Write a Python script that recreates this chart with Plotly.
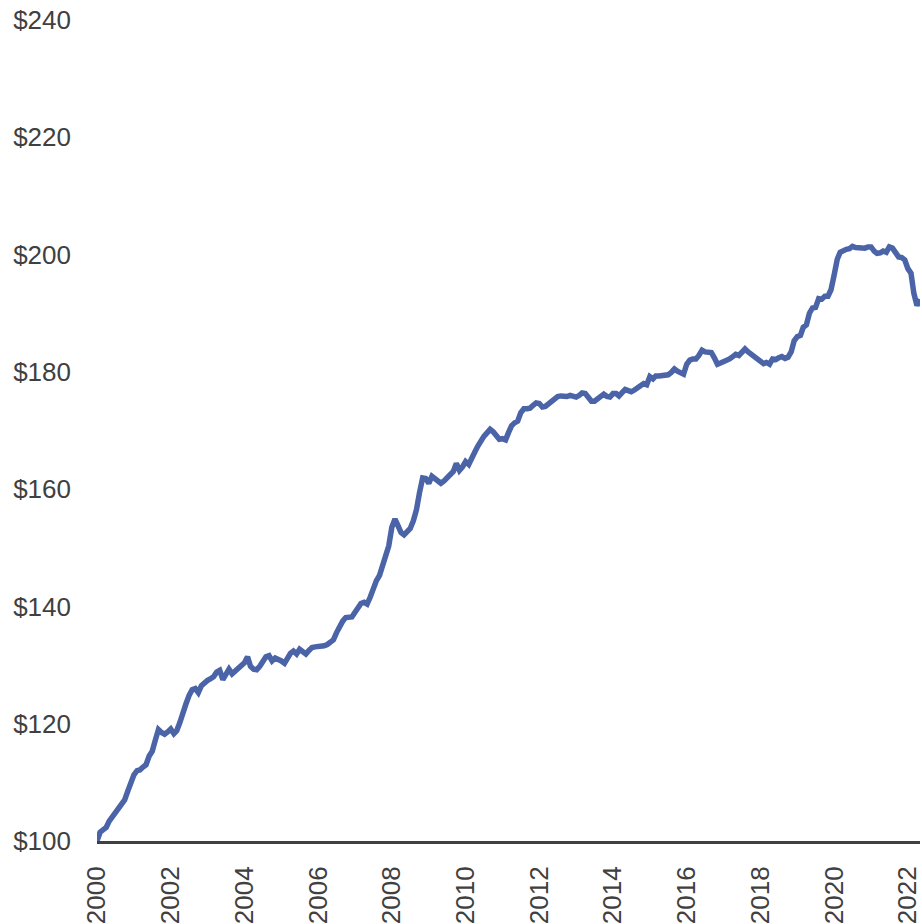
import pandas as pd
import plotly.graph_objects as go

# monthly index values, Jan 2000 - May 2022
v2000 = [100.0, 101.5, 101.9, 102.3, 103.4, 104.2, 105.0, 105.7, 106.2, 107.0, 108.5, 110.0]
v2001 = [111.3, 112.0, 112.1, 112.6, 113.0, 114.5, 115.3, 117.2, 119.0, 118.5, 118.2, 118.6]
v2002 = [119.1, 118.3, 118.8, 120.2, 121.5, 123.4, 124.8, 125.8, 126.0, 125.3, 126.5, 127.0]
v2003 = [127.4, 127.7, 128.0, 128.8, 129.1, 127.5, 128.6, 129.3, 128.5, 128.9, 129.3, 129.8]
v2004 = [130.4, 131.4, 129.8, 129.3, 129.2, 129.8, 130.6, 131.4, 131.6, 130.7, 131.2, 131.0]
v2005 = [130.7, 130.3, 131.2, 132.0, 132.4, 131.9, 132.7, 132.3, 131.9, 132.5, 133.0, 133.1]
v2006 = [133.1, 133.1, 133.3, 133.5, 133.8, 134.3, 135.5, 136.7, 137.5, 138.1, 138.2, 138.2]
v2007 = [139.0, 139.8, 140.5, 140.7, 140.4, 141.6, 143.2, 144.4, 145.3, 147.0, 149.2, 150.3]
v2008 = [153.5, 154.9, 153.8, 152.6, 152.2, 152.7, 153.3, 154.6, 156.5, 159.4, 161.9, 161.8]
v2009 = [161.0, 162.2, 161.8, 161.4, 161.0, 161.4, 162.0, 162.5, 163.0, 164.4, 163.2, 163.8]
v2010 = [164.7, 164.2, 165.0, 166.3, 167.3, 168.3, 169.0, 169.6, 170.2, 169.8, 169.0, 168.5]
v2011 = [168.6, 168.4, 169.6, 170.8, 171.3, 171.6, 173.0, 173.7, 173.7, 173.8, 174.3, 174.7]
v2012 = [174.6, 174.0, 174.1, 174.6, 175.0, 175.5, 175.8, 175.9, 175.8, 175.8, 176.0, 175.9]
v2013 = [175.7, 176.0, 176.4, 176.3, 175.6, 175.0, 175.0, 175.4, 175.9, 176.2, 175.8, 175.7]
v2014 = [176.3, 176.3, 175.9, 176.5, 177.0, 176.8, 176.6, 176.9, 177.3, 177.8, 178.0, 177.8]
v2015 = [179.2, 178.8, 179.3, 179.3, 179.4, 179.4, 179.5, 179.9, 180.5, 180.1, 179.8, 179.6]
v2016 = [181.3, 182.0, 182.2, 182.2, 182.8, 183.7, 183.4, 183.4, 183.3, 182.4, 181.3, 181.5]
v2017 = [181.7, 181.9, 182.2, 182.6, 183.0, 182.8, 183.4, 183.9, 183.4, 183.0, 182.7, 182.4]
v2018 = [181.7, 181.4, 181.6, 181.3, 182.2, 182.1, 182.4, 182.6, 182.3, 182.5, 183.4, 185.3]
v2019 = [186.0, 186.2, 187.6, 188.0, 190.0, 190.9, 191.0, 192.5, 192.4, 192.9, 192.9, 194.0]
v2020 = [196.5, 199.2, 200.4, 200.7, 200.9, 201.0, 201.4, 201.2, 201.1, 201.1, 201.1, 201.3]
v2021 = [201.3, 200.6, 200.2, 200.3, 200.6, 200.4, 201.3, 201.1, 200.3, 199.6, 199.5, 199.1]
v2022 = [197.6, 196.8, 193.4, 191.3, 192.4]

values = (v2000 + v2001 + v2002 + v2003 + v2004 + v2005 + v2006 + v2007 + v2008
          + v2009 + v2010 + v2011 + v2012 + v2013 + v2014 + v2015 + v2016
          + v2017 + v2018 + v2019 + v2020 + v2021 + v2022)
dates = pd.date_range("2000-01-01", periods=len(values), freq="MS")

y_ticks = [100, 120, 140, 160, 180, 200, 220, 240]
y_labels = [f"${t}" for t in y_ticks]
x_ticks = [f"{y}-01-01" for y in range(2000, 2023, 2)]
x_labels = [str(y) for y in range(2000, 2023, 2)]

TXT = "#404040"
LINE = "#4B64A7"

fig = go.Figure(
    go.Scatter(
        x=dates,
        y=values,
        mode="lines",
        line=dict(color=LINE, width=5.5),
        hoverinfo="x+y",
    )
)
fig.update_layout(
    width=922,
    height=924,
    margin=dict(l=97, r=0, t=20, b=81),
    paper_bgcolor="white",
    plot_bgcolor="white",
    showlegend=False,
    font=dict(family="Liberation Sans, Arial, sans-serif", size=26, color=TXT),
    xaxis=dict(
        range=[dates[0], dates[-1]],
        tickvals=x_ticks,
        ticktext=x_labels,
        tickangle=-90,
        ticklabeloverflow="allow",
        showgrid=False,
        zeroline=False,
        showline=True,
        linecolor=TXT,
        linewidth=3,
        ticks="",
        ticklabelstandoff=12,
    ),
    yaxis=dict(
        range=[100, 240],
        tickvals=y_ticks,
        ticktext=y_labels,
        showgrid=False,
        zeroline=False,
        showline=False,
        ticks="",
        ticklabelstandoff=25,
    ),
)

# page body has a default margin; drop it so the figure fills the window
fig.write_html(
    "out.html",
    config={"displayModeBar": False},
    post_script="document.body.style.margin='0px';document.body.style.overflow='hidden';",
)
